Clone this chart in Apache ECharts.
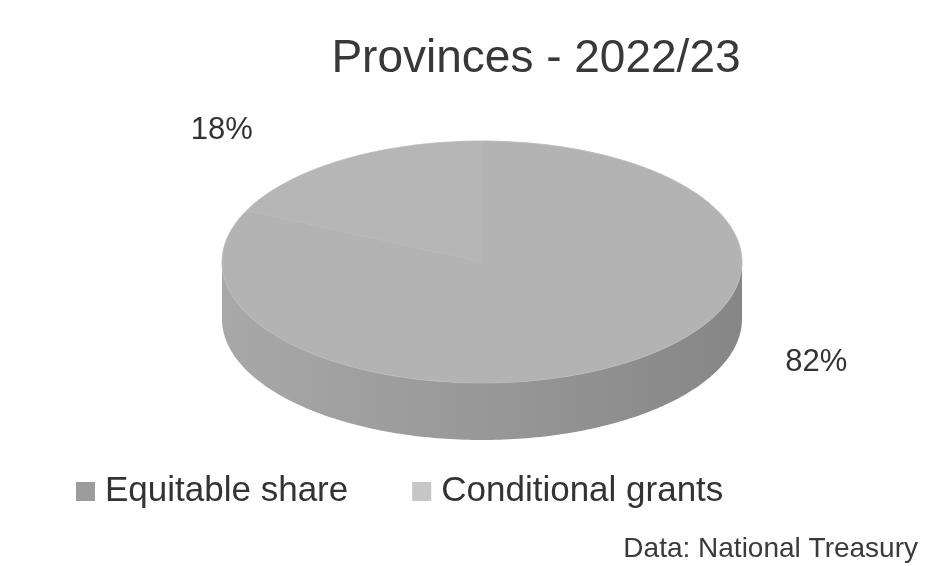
<!DOCTYPE html>
<html>
<head>
<meta charset="utf-8">
<script src="https://cdn.jsdelivr.net/npm/echarts@6/dist/echarts.min.js"></script>
<style>
  html, body { margin: 0; padding: 0; background: #fff; }
  #chart { width: 941px; height: 566px; }
</style>
</head>
<body>
<div id="chart"></div>
<script>
// Provincial transfers split, 2022/23
const categories = ['Equitable share', 'Conditional grants'];
const shares = [82, 18];

// Disc geometry (pixels): centre, radii of the top ellipse and the rim depth
const CX = 482, CY = 262, RX = 260, RY = 121, DEPTH = 57;
const TOP_COLORS = ['#b3b3b3', '#b6b6b6'];
const LEGEND_COLORS = ['#9c9c9c', '#c6c6c6'];
// Label offsets from the rim point at each slice's mid-angle
const LABEL_OFFSETS = [[195, -2], [-121, -29]];

const total = shares.reduce((a, b) => a + b, 0);

// Angle measured clockwise from 12 o'clock
function pt(theta, dy) {
  return [CX + RX * Math.sin(theta), CY - RY * Math.cos(theta) + (dy || 0)];
}
function arcPoints(a0, a1, dy) {
  const n = Math.max(2, Math.ceil((a1 - a0) / (Math.PI / 180)));
  const pts = [];
  for (let i = 0; i <= n; i++) pts.push(pt(a0 + (a1 - a0) * i / n, dy));
  return pts;
}

function makeRenderItem(k) {
  return function (params, api) {
    const before = shares.slice(0, k).reduce((a, b) => a + b, 0);
    const v = api.value(0);
    const start = before / total * Math.PI * 2;
    const end = (before + v) / total * Math.PI * 2;
    const children = [];

    // Front rim: only the part facing the viewer
    const s = Math.max(start, Math.PI / 2);
    const e = Math.min(end, Math.PI * 1.5);
    if (e > s) {
      const upper = arcPoints(s, e, 0);
      const lower = arcPoints(s, e, DEPTH).reverse();
      children.push({
        type: 'polygon',
        shape: { points: upper.concat(lower) },
        style: {
          fill: {
            type: 'linear', x: CX - RX, y: 0, x2: CX + RX, y2: 0, global: true,
            colorStops: [
              { offset: 0, color: '#a8a8a8' },
              { offset: 0.5, color: '#989898' },
              { offset: 1, color: '#868686' }
            ]
          },
          stroke: null
        }
      });
    }

    // Top face
    children.push({
      type: 'polygon',
      shape: { points: [[CX, CY]].concat(arcPoints(start, end, 0)) },
      style: { fill: TOP_COLORS[k], stroke: '#b9b9b9', lineWidth: 0.8 }
    });

    // Percentage label
    const mid = (start + end) / 2;
    const anchor = pt(mid, 0);
    children.push({
      type: 'text',
      x: anchor[0] + LABEL_OFFSETS[k][0],
      y: anchor[1] + LABEL_OFFSETS[k][1],
      style: {
        text: Math.round(v / total * 100) + '%',
        fontFamily: 'Liberation Sans, Arial, sans-serif',
        fontSize: 31,
        fill: '#333333',
        align: 'center',
        verticalAlign: 'middle'
      }
    });

    return { type: 'group', children: children };
  };
}

const chart = echarts.init(document.getElementById('chart'), null, { renderer: 'canvas' });
chart.setOption({
  backgroundColor: '#ffffff',
  animation: false,
  title: {
    text: 'Provinces - 2022/23',
    left: 531, textAlign: 'center', top: 31,
    textStyle: { fontFamily: 'Liberation Sans, Arial, sans-serif', fontSize: 46, fontWeight: 'normal', color: '#383838' }
  },
  legend: {
    left: 71, top: 469,
    itemWidth: 19, itemHeight: 19, itemGap: 64,
    icon: 'rect',
    data: categories,
    selectedMode: false,
    textStyle: { fontFamily: 'Liberation Sans, Arial, sans-serif', fontSize: 35, color: '#333333', padding: [0, 0, 0, 5] }
  },
  graphic: [{
    type: 'text', right: 23, top: 535,
    style: { text: 'Data: National Treasury', fontFamily: 'Liberation Sans, Arial, sans-serif', fontSize: 28, fill: '#3a3a3a' }
  }],
  series: categories.map((name, k) => ({
    type: 'custom',
    name: name,
    coordinateSystem: 'none',
    itemStyle: { color: LEGEND_COLORS[k] },
    renderItem: makeRenderItem(k),
    data: [[shares[k]]]
  }))
});
</script>
</body>
</html>
